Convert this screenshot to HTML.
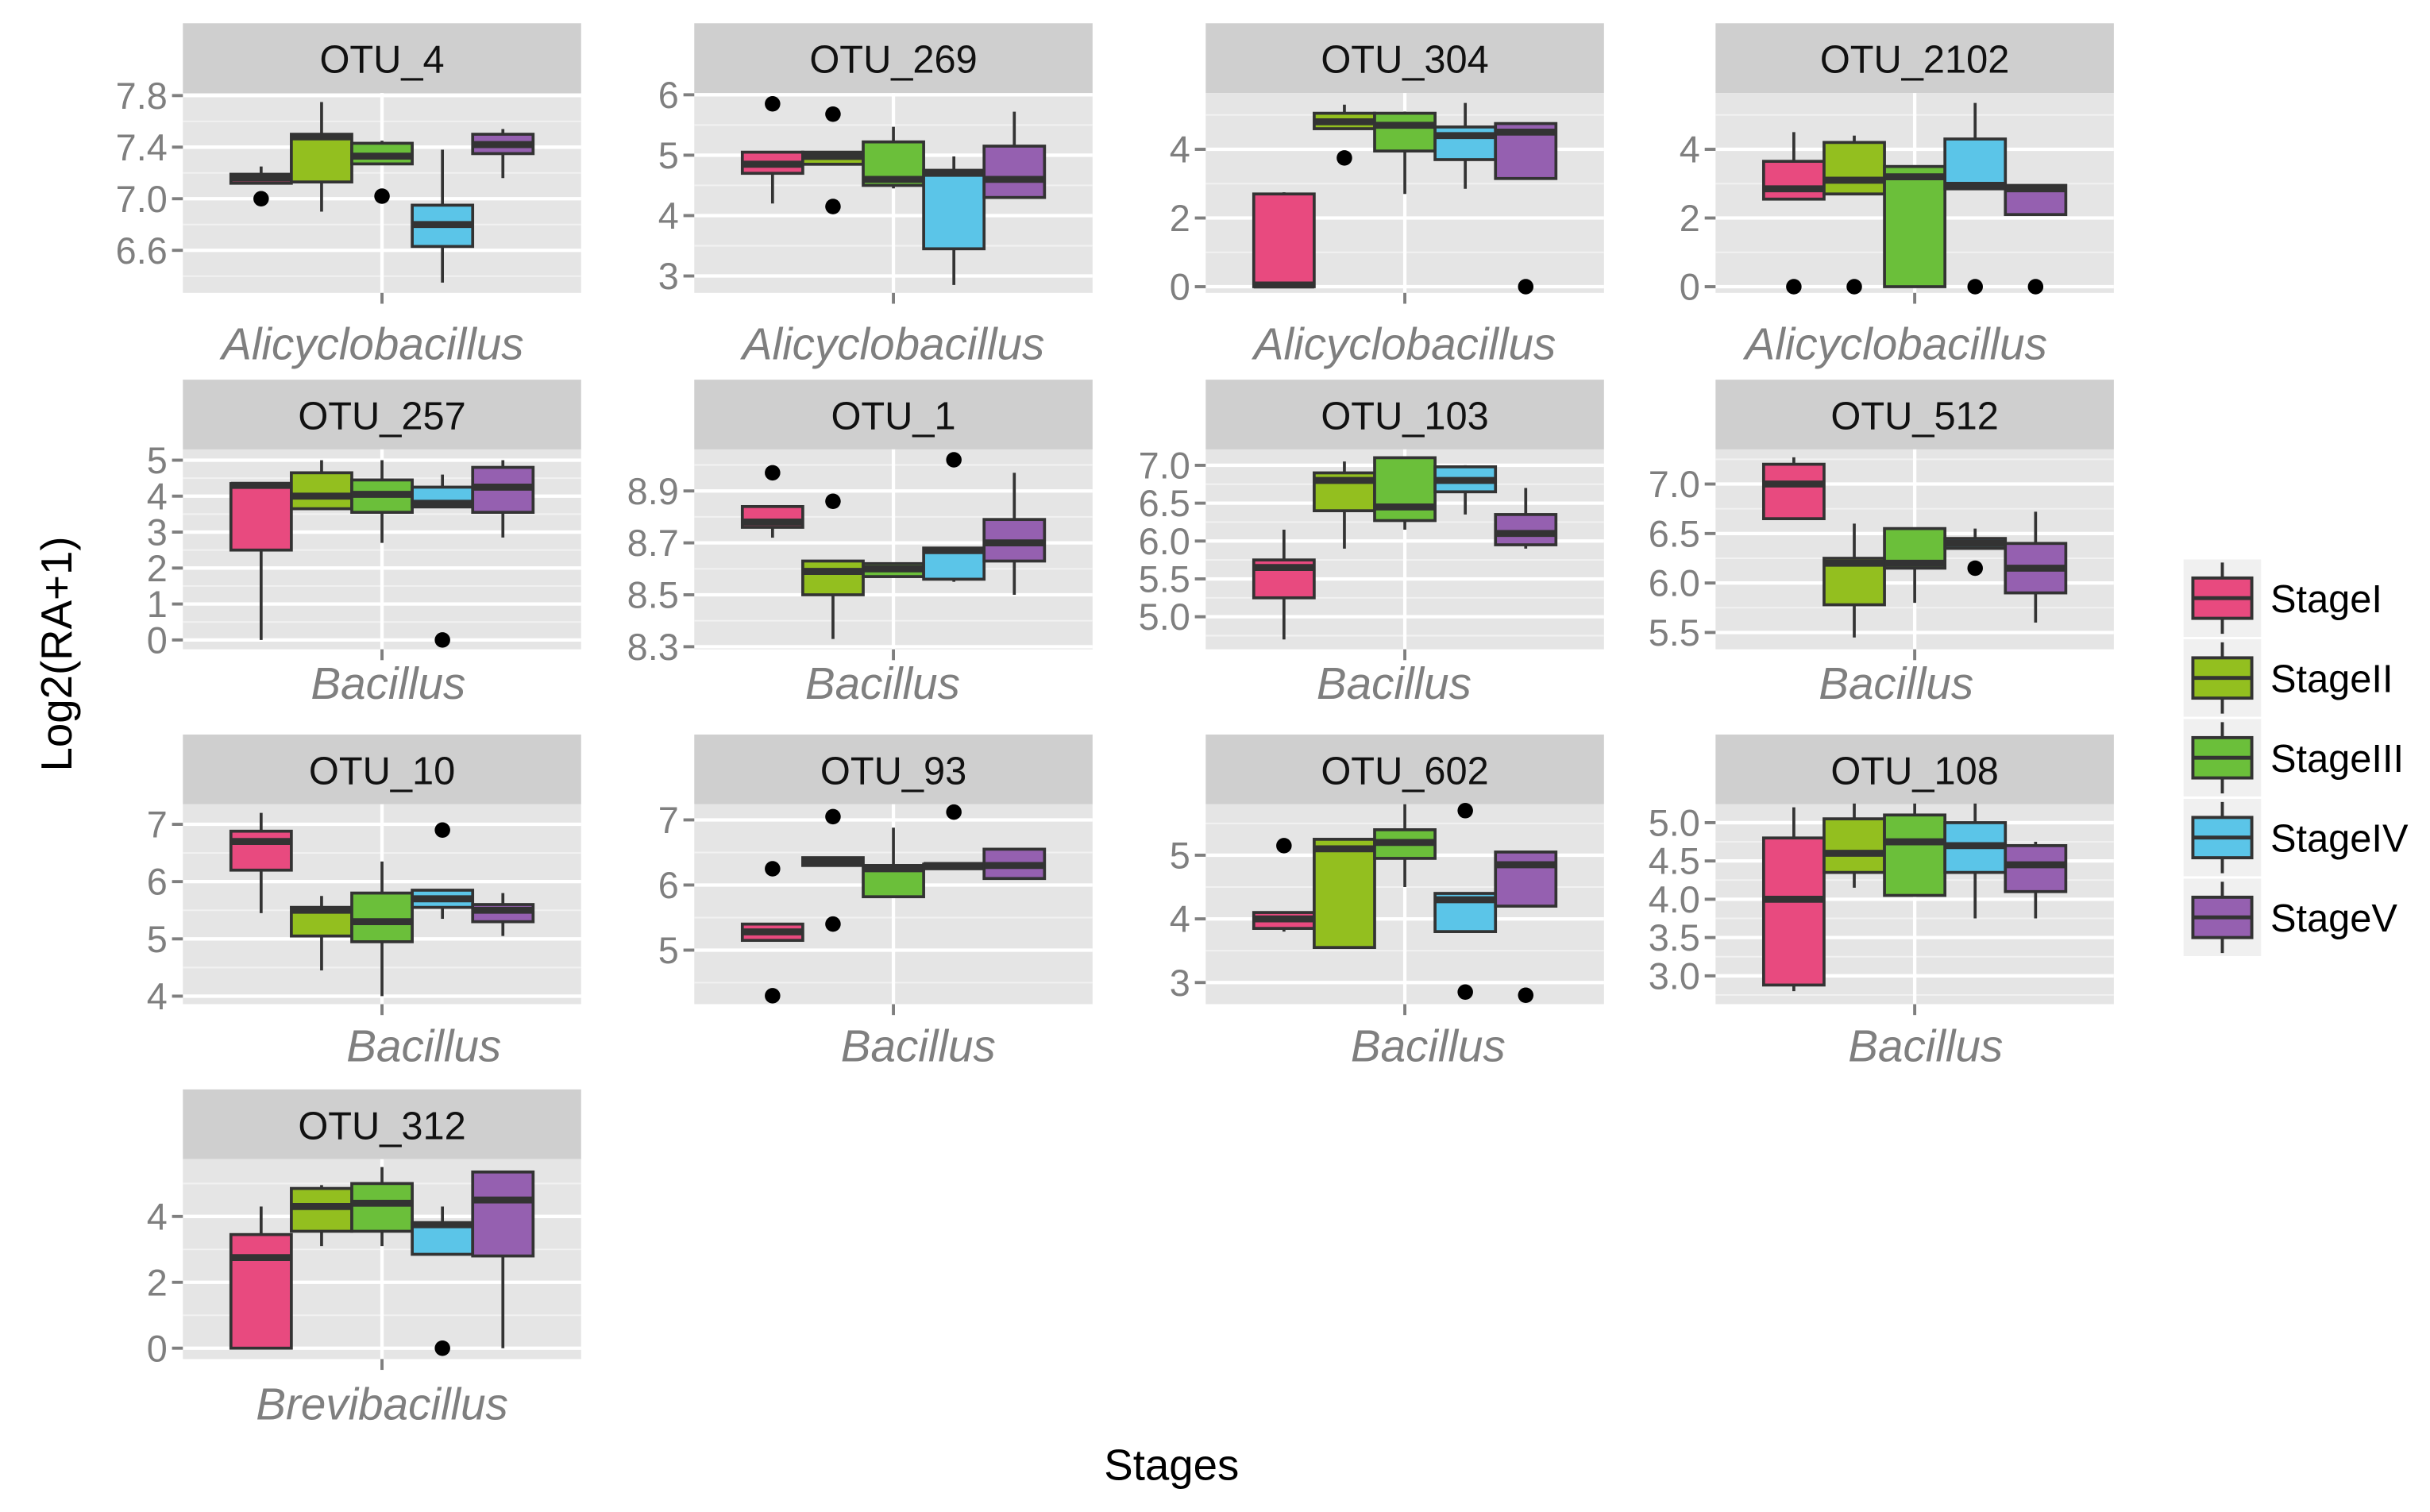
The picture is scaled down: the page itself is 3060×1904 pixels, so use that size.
<!DOCTYPE html>
<html><head><meta charset="utf-8"><style>
html,body{margin:0;padding:0;background:#fff;}
svg{display:block;}
</style></head><body>
<svg id="chart" xmlns="http://www.w3.org/2000/svg" width="3060" height="1904" viewBox="0 0 1568 975.7" preserveAspectRatio="none" font-family="Liberation Sans, sans-serif"></svg>
<script>
const stages = ["StageI","StageII","StageIII","StageIV","StageV"];
const stageColors = ["#E84A7F","#93BF1F","#6BBF3A","#5BC5E8","#9560B0"];
const otuNames = ["OTU_4","OTU_269","OTU_304","OTU_2102","OTU_257","OTU_1","OTU_103","OTU_512","OTU_10","OTU_93","OTU_602","OTU_108","OTU_312"];
const genusNames = ["Alicyclobacillus","Alicyclobacillus","Alicyclobacillus","Alicyclobacillus","Bacillus","Bacillus","Bacillus","Bacillus","Bacillus","Bacillus","Bacillus","Bacillus","Brevibacillus"];
const yDomains = [[6.27,7.82],[2.72,6.03],[-0.18,5.64],[-0.18,5.64],[-0.26,5.30],[8.29,9.06],[4.57,7.21],[5.33,7.35],[3.86,7.35],[4.17,7.24],[2.66,5.80],[2.63,5.24],[-0.33,5.74]];
const yTicks = [[6.6,7.0,7.4,7.8],[3,4,5,6],[0,2,4],[0,2,4],[0,1,2,3,4,5],[8.3,8.5,8.7,8.9],[5.0,5.5,6.0,6.5,7.0],[5.5,6.0,6.5,7.0],[4,5,6,7],[5,6,7],[3,4,5],[3.0,3.5,4.0,4.5,5.0],[0,2,4]];
const tickDecimals = [1,0,0,0,0,1,1,1,0,0,0,1,0];
// box stats per panel per stage: [lowWhisker, q1, median, q3, highWhisker]
const boxStats = [
 [[7.12,7.12,7.16,7.19,7.25],[6.9,7.13,7.48,7.5,7.75],[7.3,7.27,7.33,7.43,7.45],[6.35,6.63,6.8,6.95,7.38],[7.16,7.35,7.42,7.5,7.54]],
 [[4.2,4.7,4.85,5.05,5.05],[4.85,4.85,4.98,5.05,5.05],[4.45,4.5,4.6,5.22,5.47],[2.85,3.45,4.7,4.75,4.98],[4.3,4.3,4.6,5.15,5.72]],
 [[0,0,0.05,2.7,2.75],[4.6,4.6,4.8,5.05,5.3],[2.7,3.95,4.7,5.05,5.1],[2.85,3.7,4.4,4.65,5.35],[3.15,3.15,4.5,4.75,4.75]],
 [[2.55,2.55,2.85,3.65,4.5],[2.7,2.7,3.1,4.2,4.4],[0,0,3.2,3.5,3.5],[2.85,2.85,2.95,4.3,5.35],[2.1,2.1,2.85,2.95,2.95]],
 [[0,2.5,4.3,4.35,4.35],[3.65,3.65,4.0,4.65,5.0],[2.7,3.55,4.05,4.45,5.0],[3.7,3.7,3.8,4.25,4.6],[2.85,3.55,4.25,4.8,5.0]],
 [[8.72,8.76,8.78,8.84,8.84],[8.33,8.5,8.59,8.63,8.63],[8.57,8.57,8.6,8.62,8.62],[8.55,8.56,8.67,8.68,8.68],[8.5,8.63,8.7,8.79,8.97]],
 [[4.7,5.25,5.65,5.75,6.15],[5.9,6.4,6.8,6.9,7.05],[6.15,6.27,6.45,7.1,7.1],[6.35,6.65,6.8,6.98,7.0],[5.9,5.95,6.1,6.35,6.7]],
 [[6.65,6.65,7.0,7.2,7.27],[5.45,5.78,6.2,6.25,6.6],[5.8,6.15,6.2,6.55,6.55],[6.35,6.35,6.4,6.45,6.55],[5.6,5.9,6.15,6.4,6.72]],
 [[5.45,6.2,6.7,6.88,7.2],[4.45,5.05,5.5,5.55,5.75],[4.0,4.95,5.3,5.8,6.35],[5.35,5.55,5.7,5.85,5.85],[5.05,5.3,5.5,5.6,5.8]],
 [[5.15,5.15,5.28,5.4,5.4],[6.3,6.3,6.35,6.42,6.42],[5.82,5.82,6.25,6.3,6.88],[6.25,6.25,6.3,6.32,6.32],[6.1,6.1,6.3,6.55,6.55]],
 [[3.8,3.85,4.0,4.1,4.1],[3.55,3.55,5.1,5.25,5.25],[4.5,4.95,5.2,5.4,5.8],[3.8,3.8,4.3,4.4,4.4],[4.2,4.2,4.85,5.05,5.05]],
 [[2.8,2.88,4.0,4.8,5.2],[4.15,4.35,4.6,5.05,5.25],[4.05,4.05,4.75,5.1,5.25],[3.75,4.35,4.7,5.0,5.25],[3.75,4.1,4.45,4.7,4.75]],
 [[0,0,2.75,3.45,4.3],[3.1,3.55,4.3,4.85,4.95],[3.1,3.55,4.4,5.0,5.5],[2.85,2.85,3.75,3.8,4.3],[0,2.8,4.5,5.35,5.35]]
];
// outliers per panel per stage
const outliers = [
 [[7.0],[],[7.02],[],[]],
 [[5.85],[5.68,4.15],[],[],[]],
 [[],[3.75],[],[],[0]],
 [[0],[0],[],[0],[0]],
 [[],[],[],[0],[]],
 [[8.97],[8.86],[],[9.02],[]],
 [[],[],[],[],[]],
 [[],[],[],[6.15],[]],
 [[],[],[],[6.9],[]],
 [[6.25,4.3],[7.05,5.4],[],[7.12],[]],
 [[5.15],[],[],[5.7,2.85],[2.8]],
 [[],[],[],[],[]],
 [[],[],[],[0],[]]
];
const labelOffsets = [-6,0,0,-12, 4,-7,-7,-12, 27,16,15,7, 0];
const rowLabelDrop = [43,32,37,39];

const svg = document.getElementById('chart');
const NS = 'http://www.w3.org/2000/svg';
function mk(tag, attrs, parent){const e=document.createElementNS(NS,tag);for(const k in attrs)e.setAttribute(k,attrs[k]);(parent||svg).appendChild(e);return e;}

const colLeft=[118,448,778,1107], panelW=257, rowTop=[15,245,474,703], stripH=45, plotH=129, boxW=39;

otuNames.forEach((name,p)=>{
  const c=p%4, r=Math.floor(p/4);
  const x0=colLeft[c], y0=rowTop[r]+stripH, y1=y0+plotH, cx=x0+panelW/2;
  const [dmin,dmax]=yDomains[p];
  const ys=v=>y1-(v-dmin)/(dmax-dmin)*plotH;
  const g=mk('g',{});
  
  
  const strip=mk('rect',{x:x0,y:rowTop[r],width:panelW,height:stripH,fill:'#cfcfcf'},g);
  
  
  const st=mk('text',{x:cx,y:rowTop[r]+32,'text-anchor':'middle','font-size':25,fill:'#111'},g);
  st.textContent=name;
  
  
  const bg=mk('rect',{x:x0,y:y0,width:panelW,height:plotH,fill:'#e5e5e5'},g);
  
  
  const t=yTicks[p]; const step=t[1]-t[0];
  for(let v=t[0]-step/2; v<=dmax; v+=step){ if(v<dmin) continue;
    const ml=mk('line',{x1:x0,x2:x0+panelW,y1:ys(v),y2:ys(v),stroke:'#f2f2f2','stroke-width':1},g);
    
    
  }
  t.forEach(v=>{
    const gl=mk('line',{x1:x0,x2:x0+panelW,y1:ys(v),y2:ys(v),stroke:'#fff','stroke-width':2.2},g);
    
    
    const tk=mk('line',{x1:x0-7,x2:x0,y1:ys(v),y2:ys(v),stroke:'#7f7f7f','stroke-width':2},g);
    
    
    const tl=mk('text',{x:x0-10,y:ys(v)+8.5,'text-anchor':'end','font-size':24,fill:'#7f7f7f'},g);
    tl.textContent=v.toFixed(tickDecimals[p]);
    
    
  });
  const vg=mk('line',{x1:cx,x2:cx,y1:y0,y2:y1,stroke:'#fff','stroke-width':2.2},g);
  
  
  const xt=mk('line',{x1:cx,x2:cx,y1:y1,y2:y1+7,stroke:'#7f7f7f','stroke-width':2},g);
  
  
  const xl=mk('text',{x:cx+labelOffsets[p],y:y1+rowLabelDrop[r],'text-anchor':'middle','font-size':29,'font-style':'italic',fill:'#7f7f7f'},g);
  xl.textContent=genusNames[p];
  
  
  boxStats[p].forEach((b,s)=>{
    const bx=cx+(s-2)*boxW;
    const bg2=mk('g',{},g);
    
    
    mk('line',{x1:bx,x2:bx,y1:ys(b[4]),y2:ys(b[0]),stroke:'#333','stroke-width':1.9},bg2);
    mk('rect',{x:bx-boxW/2,y:ys(b[3]),width:boxW,height:Math.max(ys(b[1])-ys(b[3]),0.5),fill:stageColors[s],stroke:'#333','stroke-width':1.9},bg2);
    mk('line',{x1:bx-boxW/2,x2:bx+boxW/2,y1:ys(b[2]),y2:ys(b[2]),stroke:'#333','stroke-width':4.5},bg2);
    outliers[p][s].forEach(o=>{
      const d=mk('circle',{cx:bx,cy:ys(o),r:5,fill:'#000'},g);
      
      
    });
  });
});

// axis titles
const yt=mk('text',{x:0,y:0,transform:'translate(46,422) rotate(-90)','text-anchor':'middle','font-size':28,fill:'#000'});
yt.textContent='Log2(RA+1)';


const xtt=mk('text',{x:756,y:955,'text-anchor':'middle','font-size':28,fill:'#000'});
xtt.textContent='Stages';



// legend
stages.forEach((s,i)=>{
  const ly=361+i*51.5;
  const lg=mk('g',{});
  
  
  mk('rect',{x:1409,y:ly,width:50,height:50,fill:'#f0f0f0'},lg);
  mk('line',{x1:1434,x2:1434,y1:ly+2,y2:ly+48,stroke:'#333','stroke-width':2},lg);
  mk('rect',{x:1415,y:ly+12,width:38,height:26,fill:stageColors[i],stroke:'#333','stroke-width':2},lg);
  mk('line',{x1:1415,x2:1453,y1:ly+25,y2:ly+25,stroke:'#333','stroke-width':2.5},lg);
  const tx=mk('text',{x:1465,y:ly+34,'font-size':25,fill:'#000'},lg);
  tx.textContent=s;
});
</script>
</body></html>
